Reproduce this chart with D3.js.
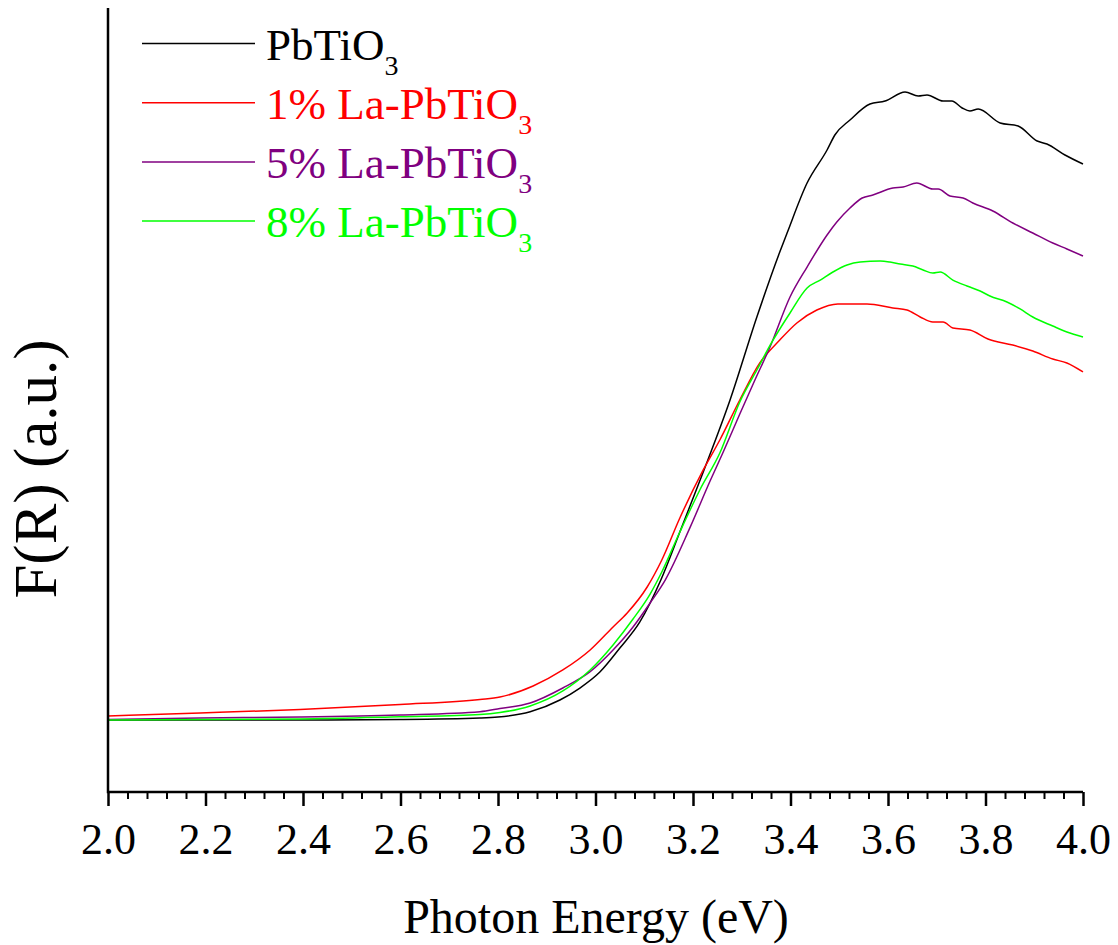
<!DOCTYPE html>
<html>
<head>
<meta charset="utf-8">
<script src="https://cdn.jsdelivr.net/npm/d3@7"></script>
<style>
  html, body { margin: 0; padding: 0; background: #fff; }
  svg { display: block; }
  text { font-family: "Liberation Serif", "Times New Roman", serif; }
</style>
</head>
<body>
<svg id="chart" width="1118" height="945"></svg>
<script>
// ---- Data ----
const xTicks = [2.0, 2.2, 2.4, 2.6, 2.8, 3.0, 3.2, 3.4, 3.6, 3.8, 4.0];
const seriesNames = ["PbTiO", "1% La-PbTiO", "5% La-PbTiO", "8% La-PbTiO"];
const seriesColors = ["#000000", "#ff0000", "#800080", "#00ff00"];

const pbtio3 = [[2.000,0.735],[2.189,0.735],[2.394,0.735],[2.599,0.740],[2.763,0.755],[2.800,0.765],[2.866,0.819],[2.927,0.939],[2.968,1.061],[3.009,1.224],[3.050,1.469],[3.091,1.735],[3.134,2.163],[3.173,2.653],[3.221,3.265],[3.276,4.000],[3.331,4.847],[3.378,5.510],[3.393,5.704],[3.434,6.214],[3.475,6.551],[3.491,6.704],[3.522,6.857],[3.563,7.020],[3.594,7.051],[3.635,7.143],[3.662,7.102],[3.680,7.112],[3.713,7.051],[3.731,7.051],[3.752,6.980],[3.768,6.949],[3.785,6.969],[3.830,6.827],[3.867,6.796],[3.906,6.643],[3.926,6.612],[3.963,6.500],[4.000,6.408]];

const la1 = [[2.000,0.776],[2.189,0.806],[2.394,0.842],[2.599,0.893],[2.763,0.944],[2.804,0.969],[2.872,1.082],[2.933,1.245],[2.989,1.449],[3.036,1.684],[3.065,1.827],[3.106,2.092],[3.136,2.367],[3.173,2.796],[3.221,3.286],[3.255,3.592],[3.296,4.000],[3.337,4.378],[3.378,4.612],[3.413,4.786],[3.454,4.918],[3.497,4.980],[3.557,4.980],[3.610,4.939],[3.639,4.918],[3.666,4.847],[3.692,4.796],[3.713,4.796],[3.733,4.735],[3.768,4.714],[3.805,4.622],[3.856,4.561],[3.897,4.500],[3.938,4.418],[3.967,4.378],[4.000,4.286]];

const la5 = [[2.000,0.740],[2.189,0.755],[2.394,0.765],[2.599,0.786],[2.763,0.819],[2.804,0.852],[2.866,0.908],[2.933,1.061],[2.989,1.228],[3.036,1.449],[3.077,1.684],[3.112,1.929],[3.143,2.163],[3.194,2.700],[3.235,3.173],[3.262,3.469],[3.296,3.857],[3.327,4.204],[3.358,4.541],[3.399,5.051],[3.434,5.357],[3.475,5.684],[3.495,5.816],[3.522,5.959],[3.547,6.061],[3.569,6.092],[3.610,6.163],[3.631,6.173],[3.659,6.214],[3.692,6.153],[3.703,6.153],[3.727,6.082],[3.754,6.061],[3.774,6.010],[3.815,5.929],[3.856,5.806],[3.897,5.704],[3.938,5.602],[3.967,5.541],[4.000,5.469]];

const la8 = [[2.000,0.735],[2.394,0.745],[2.599,0.768],[2.763,0.791],[2.804,0.811],[2.866,0.878],[2.933,1.031],[2.989,1.245],[3.036,1.500],[3.077,1.765],[3.112,2.020],[3.136,2.245],[3.173,2.653],[3.214,3.082],[3.255,3.459],[3.296,3.980],[3.331,4.306],[3.362,4.592],[3.399,4.888],[3.434,5.143],[3.461,5.224],[3.487,5.306],[3.516,5.378],[3.543,5.408],[3.584,5.418],[3.604,5.408],[3.625,5.388],[3.651,5.367],[3.672,5.327],[3.692,5.296],[3.707,5.306],[3.733,5.224],[3.762,5.163],[3.789,5.112],[3.809,5.061],[3.844,5.000],[3.871,4.929],[3.897,4.847],[3.938,4.755],[3.967,4.694],[4.000,4.643]];

const allSeries = [pbtio3, la1, la5, la8];

(function draw() {
  const svg = d3.select("#chart");
  const mLeft = 108, mRight = 1083, mTop = 8, mBottom = 792;
  const x = d3.scaleLinear().domain([2.0, 4.0]).range([mLeft, mRight]);
  const y = d3.scaleLinear().domain([0, 8]).range([mBottom, mTop]);

  // curves
  const line = d3.line().x(d => x(d[0])).y(d => y(d[1])).curve(d3.curveMonotoneX);
  allSeries.forEach((s, i) => {
    svg.append("path").datum(s)
      .attr("fill", "none")
      .attr("stroke", seriesColors[i])
      .attr("stroke-width", 1.5)
      .attr("stroke-linejoin", "round")
      .attr("d", line);
  });

  // x axis minor ticks
  const minorTicks = d3.range(2.0, 4.0001, 0.04).filter(v => !xTicks.some(t => Math.abs(t - v) < 1e-6));
  svg.append("g").attr("transform", `translate(0,${mBottom})`)
    .call(d3.axisBottom(x).tickValues(minorTicks).tickSize(7).tickFormat(""))
    .call(g => g.select(".domain").remove())
    .call(g => g.selectAll("line").attr("stroke", "#000").attr("stroke-width", 2));
  // major ticks + labels
  svg.append("g").attr("transform", `translate(0,${mBottom})`)
    .call(d3.axisBottom(x).tickValues(xTicks).tickSize(14).tickPadding(17).tickFormat(d3.format(".1f")))
    .call(g => g.select(".domain").remove())
    .call(g => g.selectAll("line").attr("stroke", "#000").attr("stroke-width", 2.5))
    .call(g => g.selectAll("text").attr("fill", "#000")
      .style("font-family", '"Liberation Serif", "Times New Roman", serif')
      .style("font-size", "44px"));

  // axis lines
  svg.append("line").attr("x1", mLeft).attr("x2", mRight).attr("y1", mBottom).attr("y2", mBottom)
    .attr("stroke", "#000").attr("stroke-width", 2.5);
  svg.append("line").attr("x1", mLeft).attr("x2", mLeft).attr("y1", mTop).attr("y2", mBottom + 1.25)
    .attr("stroke", "#000").attr("stroke-width", 2.5);

  // axis titles
  svg.append("text").attr("x", 596).attr("y", 933)
    .attr("text-anchor", "middle").style("font-size", "48px").attr("fill", "#000")
    .text("Photon Energy (eV)");
  svg.append("text")
    .attr("transform", `translate(56,469) rotate(-90)`)
    .attr("text-anchor", "middle").style("font-size", "61px").attr("fill", "#000")
    .text("F(R) (a.u.)");

  // legend
  const legendY0 = 43.5, legendStep = 59.2;
  seriesNames.forEach((name, i) => {
    const ly = legendY0 + i * legendStep;
    svg.append("line").attr("x1", 142).attr("x2", 255).attr("y1", ly).attr("y2", ly)
      .attr("stroke", seriesColors[i]).attr("stroke-width", 1.5);
    const t = svg.append("text").attr("x", 266).attr("y", ly + 16)
      .attr("fill", seriesColors[i]).style("font-size", "45px");
    t.append("tspan").text(name);
    t.append("tspan").attr("dy", 15).style("font-size", "28px").text("3");
  });
})();
</script>
</body>
</html>
